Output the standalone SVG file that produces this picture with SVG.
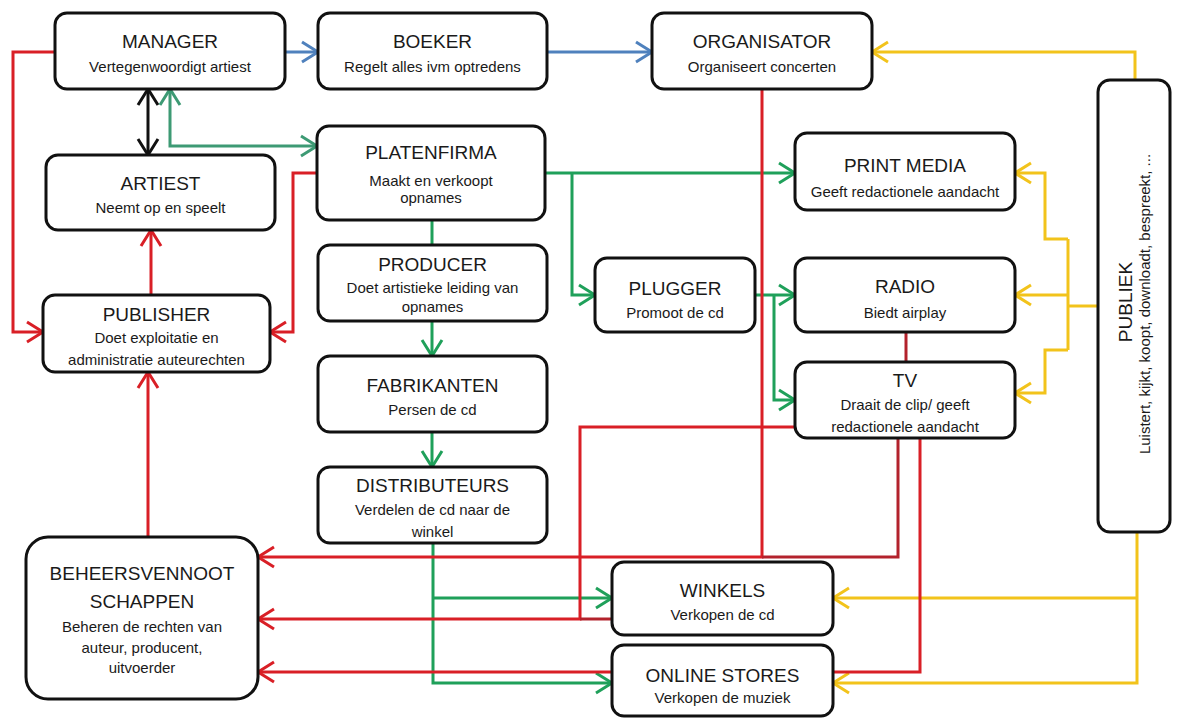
<svg xmlns="http://www.w3.org/2000/svg" width="1190" height="718" viewBox="0 0 1190 718">
<style>
.box{fill:#fff;stroke:#111;stroke-width:3}
.t{font-family:"Liberation Sans",Arial,sans-serif;font-size:19px;fill:#1a1a1a;text-anchor:middle}
.s{font-family:"Liberation Sans",Arial,sans-serif;font-size:15px;fill:#1a1a1a;text-anchor:middle}
.c{fill:none;stroke-width:3}
.red{stroke:#d91f26}
.dred{stroke:#b3222c}
.blue{stroke:#4f81bd}
.green{stroke:#1fa05a}
.teal{stroke:#3d9a74}
.yel{stroke:#f2c31b}
.blk{stroke:#111}
</style>
<defs>
<marker id="mR" viewBox="0 0 20 24" markerWidth="20" markerHeight="24" refX="18" refY="12" orient="auto-start-reverse" markerUnits="userSpaceOnUse"><path d="M2,2 L18,12 L2,22" fill="none" stroke="#d91f26" stroke-width="3"/></marker>
<marker id="mB" viewBox="0 0 20 24" markerWidth="20" markerHeight="24" refX="18" refY="12" orient="auto-start-reverse" markerUnits="userSpaceOnUse"><path d="M2,2 L18,12 L2,22" fill="none" stroke="#4f81bd" stroke-width="3"/></marker>
<marker id="mG" viewBox="0 0 20 24" markerWidth="20" markerHeight="24" refX="18" refY="12" orient="auto-start-reverse" markerUnits="userSpaceOnUse"><path d="M2,2 L18,12 L2,22" fill="none" stroke="#1fa05a" stroke-width="3"/></marker>
<marker id="mT" viewBox="0 0 20 24" markerWidth="20" markerHeight="24" refX="18" refY="12" orient="auto-start-reverse" markerUnits="userSpaceOnUse"><path d="M2,2 L18,12 L2,22" fill="none" stroke="#3d9a74" stroke-width="3"/></marker>
<marker id="mY" viewBox="0 0 20 24" markerWidth="20" markerHeight="24" refX="18" refY="12" orient="auto-start-reverse" markerUnits="userSpaceOnUse"><path d="M2,2 L18,12 L2,22" fill="none" stroke="#f2c31b" stroke-width="3"/></marker>
<marker id="mK" viewBox="0 0 20 24" markerWidth="20" markerHeight="24" refX="18" refY="12" orient="auto-start-reverse" markerUnits="userSpaceOnUse"><path d="M2,2 L18,12 L2,22" fill="none" stroke="#111" stroke-width="3"/></marker>
</defs>
<rect width="1190" height="718" fill="#fff"/>
<g id="connectors">
<!-- blue -->
<path class="c blue" d="M285,52 H318" marker-end="url(#mB)"/>
<path class="c blue" d="M547,52 H652" marker-end="url(#mB)"/>
<!-- black -->
<path class="c blk" d="M148,89 V155" marker-start="url(#mK)" marker-end="url(#mK)"/>
<!-- teal manager-platenfirma -->
<path class="c teal" d="M170,89 V146 H317" marker-start="url(#mT)" marker-end="url(#mT)"/>
<!-- green -->
<path class="c green" d="M545,173 H795" marker-end="url(#mG)"/>
<path class="c green" d="M572,173 V295 H595" marker-end="url(#mG)"/>
<path class="c green" d="M432,220 V245"/>
<path class="c green" d="M432,321 V356" marker-end="url(#mG)"/>
<path class="c green" d="M432,432 V467" marker-end="url(#mG)"/>
<path class="c green" d="M433,543 V683 H612" marker-end="url(#mG)"/>
<path class="c green" d="M433,598 H612" marker-end="url(#mG)"/>
<path class="c green" d="M755,295 H795" marker-end="url(#mG)"/>
<path class="c green" d="M774,295 V400 H795" marker-end="url(#mG)"/>
<!-- yellow -->
<path class="c yel" d="M1135,80 V52 H872" marker-end="url(#mY)"/>
<path class="c yel" d="M1068,239 H1045 V173 H1015" marker-end="url(#mY)"/>
<path class="c yel" d="M1068,239 V350"/>
<path class="c yel" d="M1098,306 H1068"/>
<path class="c yel" d="M1068,295 H1015" marker-end="url(#mY)"/>
<path class="c yel" d="M1068,350 H1045 V393 H1015" marker-end="url(#mY)"/>
<path class="c yel" d="M1137,532 V683 H833" marker-end="url(#mY)"/>
<path class="c yel" d="M1137,598 H833" marker-end="url(#mY)"/>
<!-- red -->
<path class="c red" d="M55,52 H13 V332 H43" marker-end="url(#mR)"/>
<path class="c red" d="M317,173 H293 V332 H270" marker-end="url(#mR)"/>
<path class="c red" d="M151,295 V230" marker-end="url(#mR)"/>
<path class="c red" d="M148,537 V372" marker-end="url(#mR)"/>
<path class="c red" d="M762,89 V557 H258" marker-end="url(#mR)"/>
<path class="c dred" d="M898,438 V557 H762"/>
<path class="c red" d="M795,427 H580 V619 H258" marker-end="url(#mR)"/>
<path class="c dred" d="M612,619 H580"/>
<path class="c red" d="M920,438 V672 H258" marker-end="url(#mR)"/>
<path class="c dred" d="M906,332 V362"/>
</g>
<g id="manager"><rect class="box" x="55" y="13" width="230" height="76" rx="12"/><text class="t" x="170" y="48">MANAGER</text><text class="s" x="170" y="72">Vertegenwoordigt artiest</text></g>
<g id="boeker"><rect class="box" x="318" y="13" width="229" height="76" rx="12"/><text class="t" x="432.5" y="48">BOEKER</text><text class="s" x="432.5" y="72">Regelt alles ivm optredens</text></g>
<g id="organisator"><rect class="box" x="652" y="13" width="220" height="76" rx="12"/><text class="t" x="762" y="48">ORGANISATOR</text><text class="s" x="762" y="72">Organiseert concerten</text></g>
<g id="artiest"><rect class="box" x="46" y="155" width="229" height="75" rx="12"/><text class="t" x="160.5" y="190">ARTIEST</text><text class="s" x="160.5" y="213">Neemt op en speelt</text></g>
<g id="platenfirma"><rect class="box" x="317" y="126" width="228" height="94" rx="12"/><text class="t" x="431" y="159">PLATENFIRMA</text><text class="s" x="431" y="186">Maakt en verkoopt</text><text class="s" x="431" y="203">opnames</text></g>
<g id="printmedia"><rect class="box" x="795" y="133" width="220" height="77" rx="12"/><text class="t" x="905" y="172">PRINT MEDIA</text><text class="s" x="905" y="197">Geeft redactionele aandacht</text></g>
<g id="publiek"><rect class="box" x="1098" y="80" width="72" height="452" rx="12"/><text class="t" transform="translate(1132,302) rotate(-90)">PUBLIEK</text><text class="s" transform="translate(1150,304) rotate(-90)">Luistert, kijkt, koopt, downloadt, bespreekt, ...</text></g>
<g id="publisher"><rect class="box" x="43" y="295" width="227" height="77" rx="12"/><text class="t" x="156.5" y="321">PUBLISHER</text><text class="s" x="156.5" y="343">Doet exploitatie en</text><text class="s" x="156.5" y="365">administratie auteurechten</text></g>
<g id="producer"><rect class="box" x="318" y="245" width="229" height="76" rx="12"/><text class="t" x="432.5" y="271">PRODUCER</text><text class="s" x="432.5" y="293">Doet artistieke leiding van</text><text class="s" x="432.5" y="312">opnames</text></g>
<g id="plugger"><rect class="box" x="595" y="258" width="160" height="74" rx="12"/><text class="t" x="675" y="295">PLUGGER</text><text class="s" x="675" y="318">Promoot de cd</text></g>
<g id="radio"><rect class="box" x="795" y="258" width="220" height="74" rx="12"/><text class="t" x="905" y="293">RADIO</text><text class="s" x="905" y="318">Biedt airplay</text></g>
<g id="tv"><rect class="box" x="795" y="362" width="220" height="76" rx="12"/><text class="t" x="905" y="387">TV</text><text class="s" x="905" y="410">Draait de clip/ geeft</text><text class="s" x="905" y="432">redactionele aandacht</text></g>
<g id="fabrikanten"><rect class="box" x="318" y="356" width="229" height="76" rx="12"/><text class="t" x="432.5" y="392">FABRIKANTEN</text><text class="s" x="432.5" y="415">Persen de cd</text></g>
<g id="distributeurs"><rect class="box" x="318" y="467" width="229" height="76" rx="12"/><text class="t" x="432.5" y="492">DISTRIBUTEURS</text><text class="s" x="432.5" y="515">Verdelen de cd naar de</text><text class="s" x="432.5" y="537">winkel</text></g>
<g id="beheersvennootschappen"><rect class="box" x="26" y="537" width="232" height="162" rx="22"/><text class="t" x="142" y="580">BEHEERSVENNOOT</text><text class="t" x="142" y="608">SCHAPPEN</text><text class="s" x="142" y="632">Beheren de rechten van</text><text class="s" x="142" y="653">auteur, producent,</text><text class="s" x="142" y="673">uitvoerder</text></g>
<g id="winkels"><rect class="box" x="612" y="562" width="221" height="73" rx="12"/><text class="t" x="722.5" y="597">WINKELS</text><text class="s" x="722.5" y="620">Verkopen de cd</text></g>
<g id="onlinestores"><rect class="box" x="612" y="645" width="221" height="71" rx="12"/><text class="t" x="722.5" y="682">ONLINE STORES</text><text class="s" x="722.5" y="703">Verkopen de muziek</text></g>
</svg>
